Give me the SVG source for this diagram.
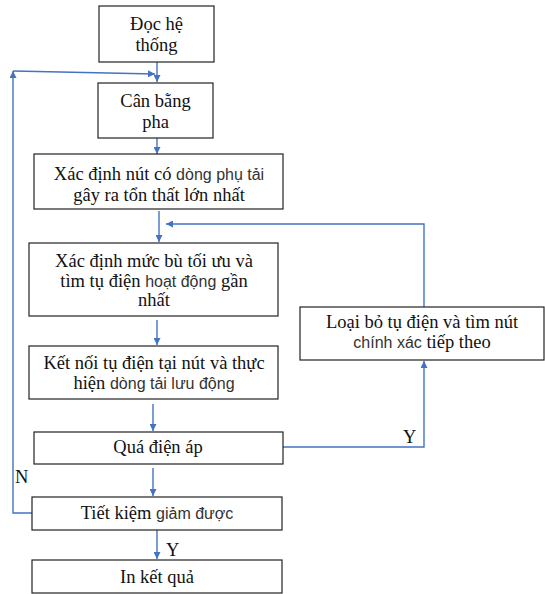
<svg xmlns="http://www.w3.org/2000/svg" width="545" height="594" viewBox="0 0 545 594">
<defs>
<style>
.box{fill:#fff;stroke:#222;stroke-width:1.2}
.t{font-family:"Liberation Serif","Times New Roman",serif;font-size:18.5px;fill:#111;text-anchor:middle}
.s{font-family:"Liberation Sans",Arial,sans-serif;font-size:16px;fill:#333}
.c{fill:none;stroke:#4472C4;stroke-width:1.4}
.lbl{font-family:"Liberation Serif","Times New Roman",serif;font-size:18.5px;fill:#111}
</style>
<marker id="ah" viewBox="0 0 10 10" refX="10" refY="5" markerWidth="7" markerHeight="7" markerUnits="userSpaceOnUse" orient="auto">
<path d="M0,0 L10,5 L0,10 z" fill="#4472C4"/>
</marker>
</defs>
<rect width="545" height="594" fill="#fff"/>
<g id="connectors">
<path class="c" d="M157,62 V82" marker-end="url(#ah)"/>
<path class="c" d="M32,513 H13 V71" marker-end="url(#ah)"/>
<path class="c" d="M13,71 L155,74" marker-end="url(#ah)"/>
<path class="c" d="M157,138 V154" marker-end="url(#ah)"/>
<path class="c" d="M159,211 V242" marker-end="url(#ah)"/>
<path class="c" d="M424,307 V224 H166" marker-end="url(#ah)"/>
<path class="c" d="M157,320 V345" marker-end="url(#ah)"/>
<path class="c" d="M153,404 V431" marker-end="url(#ah)"/>
<path class="c" d="M283,447 H424 V361" marker-end="url(#ah)"/>
<path class="c" d="M153,468 V496" marker-end="url(#ah)"/>
<path class="c" d="M157,530 V559" marker-end="url(#ah)"/>
<text class="lbl" x="403" y="443">Y</text>
<text class="lbl" x="15" y="483">N</text>
<text class="lbl" x="166" y="556">Y</text>
</g>
<g id="n1">
<rect class="box" x="99" y="6" width="115" height="56"/>
<text class="t" x="156.5" y="30">Đọc hệ</text>
<text class="t" x="156.5" y="51">thống</text>
</g>
<g id="n2">
<rect class="box" x="98" y="83" width="115" height="55"/>
<text class="t" x="155.5" y="107">Cân bằng</text>
<text class="t" x="155.5" y="128">pha</text>
</g>
<g id="n3">
<rect class="box" x="34" y="154" width="249" height="55"/>
<text class="t" x="159" y="180">Xác định nút có <tspan class="s">dòng phụ tải</tspan></text>
<text class="t" x="159" y="201">gây ra tổn thất lớn nhất</text>
</g>
<g id="n4">
<rect class="box" x="29" y="243" width="249" height="73"/>
<text class="t" x="154" y="267">Xác định mức bù tối ưu và</text>
<text class="t" x="154" y="287">tìm tụ điện <tspan class="s">hoạt động</tspan> gần</text>
<text class="t" x="154" y="306">nhất</text>
</g>
<g id="n5">
<rect class="box" x="300" y="307" width="244" height="53"/>
<text class="t" x="422" y="328">Loại bỏ tụ điện và tìm  nút</text>
<text class="t" x="422" y="348"><tspan class="s">chính xác</tspan> tiếp theo</text>
</g>
<g id="n6">
<rect class="box" x="29" y="346" width="249" height="53"/>
<text class="t" x="154" y="369">Kết nối tụ điện tại nút và thực</text>
<text class="t" x="154" y="389">hiện <tspan class="s">dòng tải lưu động</tspan></text>
</g>
<g id="n7">
<rect class="box" x="34" y="432" width="249" height="32"/>
<text class="t" x="158" y="453">Quá điện áp</text>
</g>
<g id="n8">
<rect class="box" x="32" y="497" width="250" height="33"/>
<text class="t" x="157" y="519">Tiết kiệm <tspan class="s">giảm được</tspan></text>
</g>
<g id="n9">
<rect class="box" x="32" y="560" width="250" height="33"/>
<text class="t" x="157" y="583">In kết quả</text>
</g>
</svg>
